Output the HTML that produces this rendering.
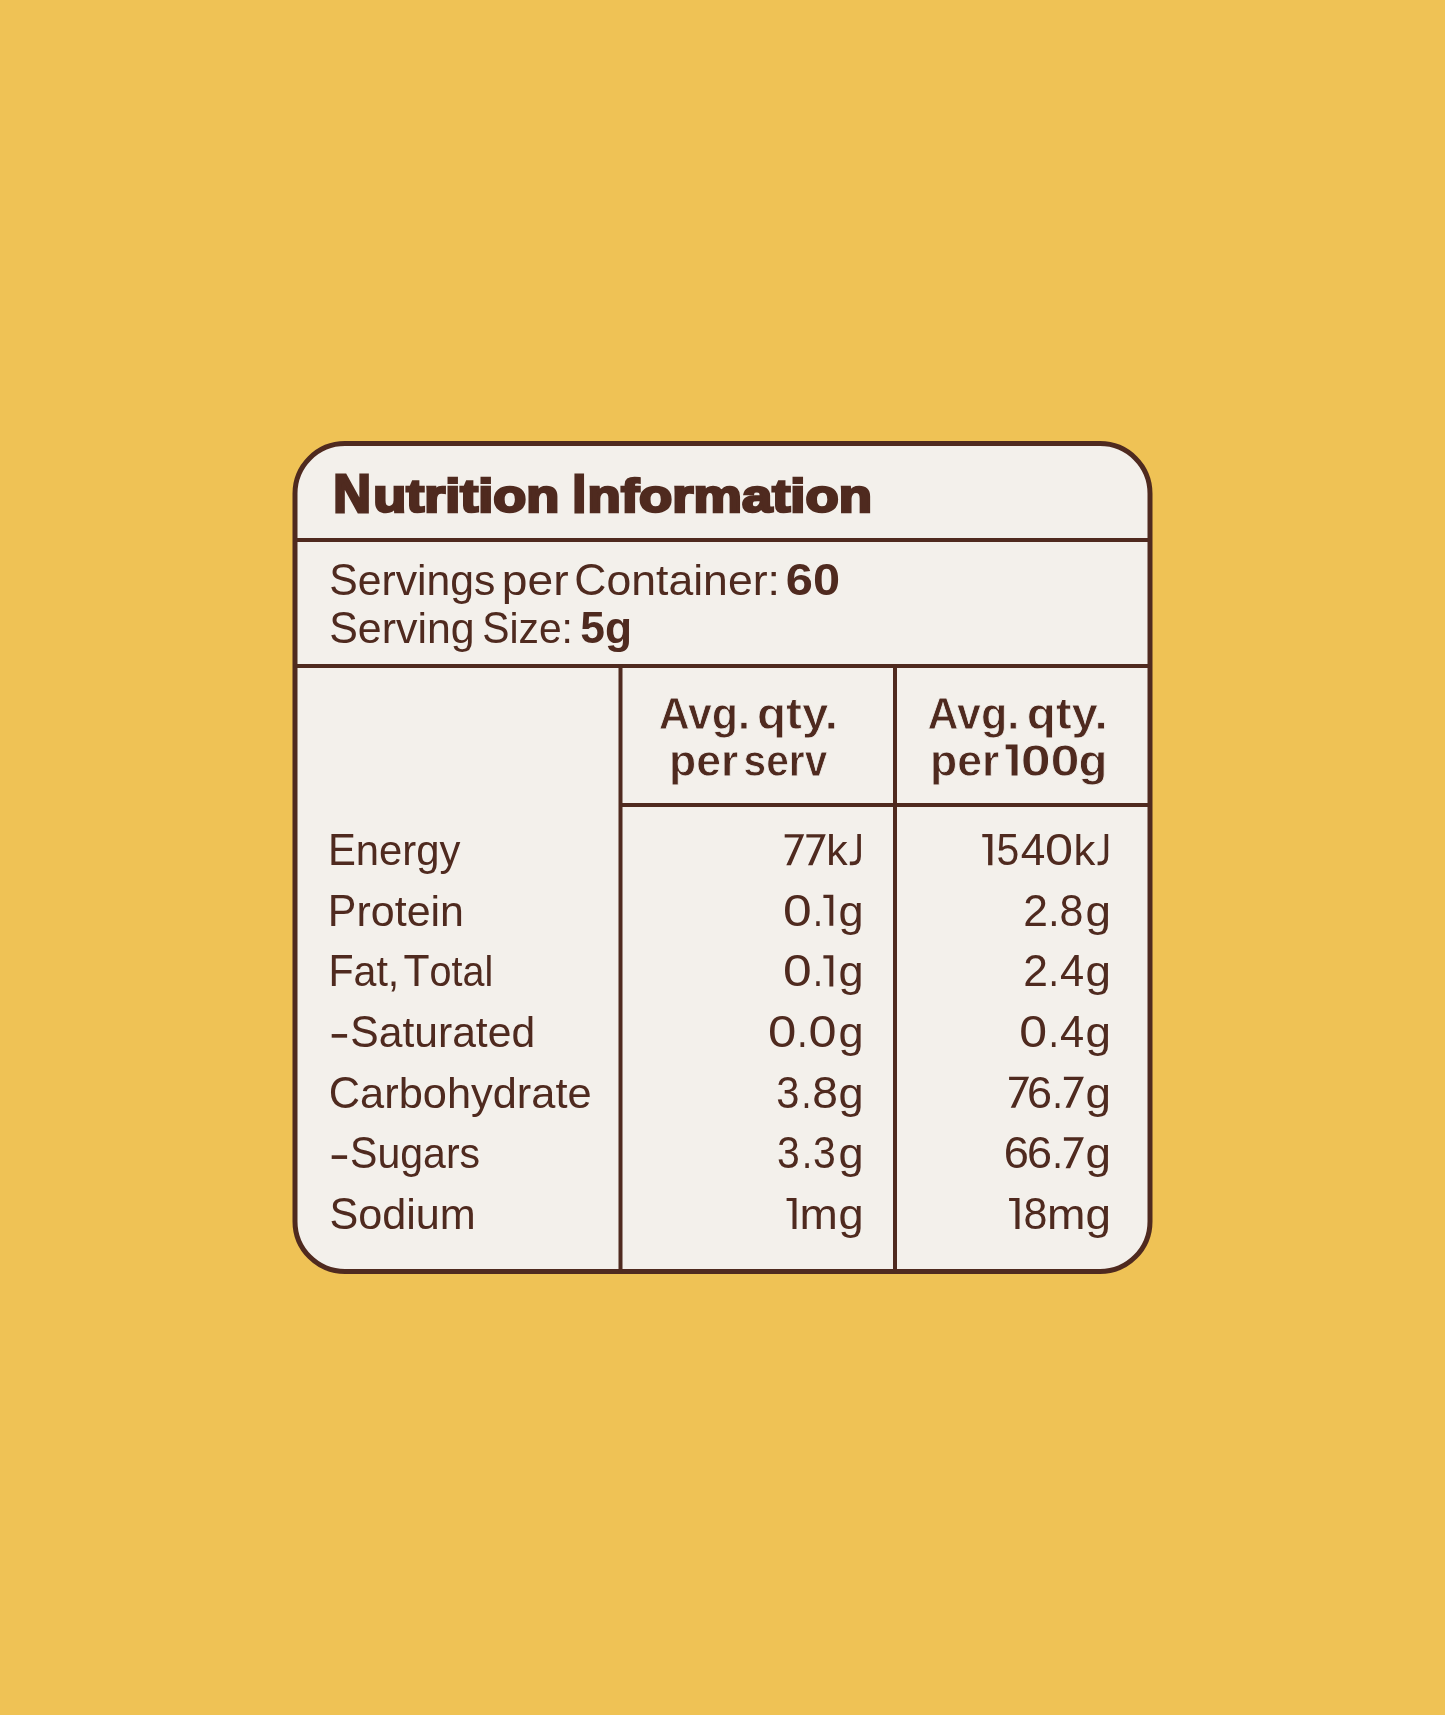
<!DOCTYPE html>
<html><head><meta charset="utf-8"><style>
html,body{margin:0;padding:0;background:#EFC255;width:1445px;height:1715px;overflow:hidden}
svg{display:block;will-change:transform}
text{font-family:"Liberation Sans",sans-serif;fill:#4F2A1F}
</style></head><body>
<svg width="1445" height="1715" viewBox="0 0 1445 1715">
<rect x="0" y="0" width="1445" height="1715" fill="#EFC255"/>
<rect x="295" y="443.5" width="855" height="828" rx="50" ry="50" fill="#F3F0EB" stroke="#4F2A1F" stroke-width="5"/>
<g fill="#4F2A1F">
<rect x="295" y="538" width="855" height="4"/>
<rect x="295" y="664" width="855" height="4"/>
<rect x="620.5" y="803" width="529.5" height="4"/>
<rect x="618.5" y="664" width="4" height="607.5"/>
<rect x="893" y="664" width="4" height="607.5"/>
<rect x="331.7" y="1034.04" width="15.4" height="3.65"/>
<rect x="331.7" y="1155.30" width="15.4" height="3.65"/>
</g>
<text transform="translate(333.34 512.20) scale(0.9668 1)" font-size="54" font-weight="700" stroke="#4F2A1F" stroke-width="2.9" stroke-linejoin="miter" stroke-miterlimit="2">N</text>
<text transform="translate(373.28 512.20) scale(1.1618 1)" font-size="46.5" font-weight="700" stroke="#4F2A1F" stroke-width="2.6" stroke-linejoin="miter" stroke-miterlimit="2">utrition</text>
<text transform="translate(572.57 512.20) scale(0.8997 1)" font-size="54" font-weight="700" stroke="#4F2A1F" stroke-width="2.9" stroke-linejoin="miter" stroke-miterlimit="2">I</text>
<text transform="translate(587.62 512.20) scale(1.1713 1)" font-size="46.5" font-weight="700" stroke="#4F2A1F" stroke-width="2.6" stroke-linejoin="miter" stroke-miterlimit="2">nformation</text>
<text transform="translate(329.27 594.90) scale(0.9506 1)" font-size="44.9">S</text>
<text transform="translate(357.74 594.90) scale(0.9881 1)" font-size="43.2">ervings</text>
<text transform="translate(501.81 594.90) scale(1.0701 1)" font-size="43.2">per</text>
<text transform="translate(574.31 594.90) scale(0.9925 1)" font-size="44.9">C</text>
<text transform="translate(606.49 594.90) scale(1.0316 1)" font-size="43.2">ontainer:</text>
<text transform="translate(785.78 594.90) scale(1.0950 1)" font-size="44.5" font-weight="700">60</text>
<text transform="translate(329.26 643.10) scale(0.9554 1)" font-size="44.9">S</text>
<text transform="translate(357.87 643.10) scale(0.9930 1)" font-size="43.2">erving</text>
<text transform="translate(482.23 643.10) scale(0.9082 1)" font-size="44.9">S</text>
<text transform="translate(509.43 643.10) scale(0.9440 1)" font-size="43.2">ize:</text>
<text transform="translate(580.31 643.10) scale(0.9961 1)" font-size="44.5" font-weight="700">5g</text>
<text transform="translate(658.64 729.40) scale(0.9641 1)" font-size="44.5" font-weight="700" stroke="#F3F0EB" stroke-width="0.8">Avg.</text>
<text transform="translate(756.99 729.40) scale(1.0691 1)" font-size="44.5" font-weight="700" stroke="#F3F0EB" stroke-width="0.8">qty.</text>
<text transform="translate(668.92 775.50) scale(1.0010 1)" font-size="44.5" font-weight="700" stroke="#F3F0EB" stroke-width="0.8">per</text>
<text transform="translate(743.56 775.50) scale(0.9146 1)" font-size="44.5" font-weight="700" stroke="#F3F0EB" stroke-width="0.8">serv</text>
<text transform="translate(927.54 729.40) scale(0.9663 1)" font-size="44.5" font-weight="700" stroke="#F3F0EB" stroke-width="0.8">Avg.</text>
<text transform="translate(1026.79 729.40) scale(1.0677 1)" font-size="44.5" font-weight="700" stroke="#F3F0EB" stroke-width="0.8">qty.</text>
<text transform="translate(929.92 775.50) scale(1.0010 1)" font-size="44.5" font-weight="700" stroke="#F3F0EB" stroke-width="0.8">per</text>
<text transform="translate(1020.63 775.50) scale(1.2142 1)" font-size="44.5" font-weight="700" stroke="#F3F0EB" stroke-width="0.8">0</text>
<text transform="translate(1050.39 775.50) scale(1.1756 1)" font-size="44.5" font-weight="700" stroke="#F3F0EB" stroke-width="0.8">0</text>
<text transform="translate(1078.39 775.50) scale(1.0657 1)" font-size="44.5" font-weight="700" stroke="#F3F0EB" stroke-width="0.8">g</text>
<text transform="translate(327.93 865.20) scale(0.9319 1)" font-size="44.9">E</text>
<text transform="translate(355.84 865.20) scale(0.9685 1)" font-size="43.2">nergy</text>
<text transform="translate(826.22 865.20) scale(0.9911 1)" font-size="43.2">k</text>
<text transform="translate(996.52 865.20) scale(0.9186 1)" font-size="44.5">5</text>
<text transform="translate(1020.81 865.20) scale(0.9937 1)" font-size="44.5">4</text>
<text transform="translate(1045.12 865.20) scale(1.1326 1)" font-size="44.5">0</text>
<text transform="translate(1073.57 865.20) scale(1.0115 1)" font-size="43.2">k</text>
<text transform="translate(327.84 925.83) scale(0.9572 1)" font-size="44.9">P</text>
<text transform="translate(356.51 925.83) scale(0.9948 1)" font-size="43.2">rotein</text>
<text transform="translate(782.99 925.83) scale(1.1596 1)" font-size="44.5">0</text>
<text transform="translate(813.11 925.83) scale(0.8013 1)" font-size="44.5">.</text>
<text transform="translate(838.59 925.83) scale(1.0469 1)" font-size="43.2">g</text>
<text transform="translate(1023.32 925.83) scale(0.9972 1)" font-size="44.5">2</text>
<text transform="translate(1048.36 925.83) scale(0.9040 1)" font-size="44.5">.</text>
<text transform="translate(1059.46 925.83) scale(0.9650 1)" font-size="44.5">8</text>
<text transform="translate(1085.57 925.83) scale(1.0617 1)" font-size="43.2">g</text>
<text transform="translate(328.39 986.46) scale(0.9165 1)" font-size="44.9">F</text>
<text transform="translate(353.52 986.46) scale(0.9526 1)" font-size="43.2">at,</text>
<text transform="translate(403.43 986.46) scale(0.9487 1)" font-size="44.9">T</text>
<text transform="translate(429.55 986.46) scale(0.9139 1)" font-size="43.2">otal</text>
<text transform="translate(782.99 986.46) scale(1.1596 1)" font-size="44.5">0</text>
<text transform="translate(813.11 986.46) scale(0.8013 1)" font-size="44.5">.</text>
<text transform="translate(838.59 986.46) scale(1.0469 1)" font-size="43.2">g</text>
<text transform="translate(1023.22 986.46) scale(0.9972 1)" font-size="44.5">2</text>
<text transform="translate(1048.57 986.46) scale(0.8424 1)" font-size="44.5">.</text>
<text transform="translate(1059.92 986.46) scale(0.9762 1)" font-size="44.5">4</text>
<text transform="translate(1085.57 986.46) scale(1.0617 1)" font-size="43.2">g</text>
<text transform="translate(350.27 1047.09) scale(0.9498 1)" font-size="44.9">S</text>
<text transform="translate(378.71 1047.09) scale(0.9872 1)" font-size="43.2">aturated</text>
<text transform="translate(767.91 1047.09) scale(1.1461 1)" font-size="44.5">0</text>
<text transform="translate(797.00 1047.09) scale(0.8629 1)" font-size="44.5">.</text>
<text transform="translate(808.62 1047.09) scale(1.1326 1)" font-size="44.5">0</text>
<text transform="translate(838.59 1047.09) scale(1.0469 1)" font-size="43.2">g</text>
<text transform="translate(1019.14 1047.09) scale(1.1236 1)" font-size="44.5">0</text>
<text transform="translate(1048.57 1047.09) scale(0.8424 1)" font-size="44.5">.</text>
<text transform="translate(1059.92 1047.09) scale(0.9762 1)" font-size="44.5">4</text>
<text transform="translate(1085.57 1047.09) scale(1.0617 1)" font-size="43.2">g</text>
<text transform="translate(328.77 1107.72) scale(0.9663 1)" font-size="44.9">C</text>
<text transform="translate(360.10 1107.72) scale(1.0044 1)" font-size="43.2">arbohydrate</text>
<text transform="translate(776.20 1107.72) scale(0.9372 1)" font-size="44.5">3</text>
<text transform="translate(801.41 1107.72) scale(0.8013 1)" font-size="44.5">.</text>
<text transform="translate(812.25 1107.72) scale(1.0392 1)" font-size="44.5">8</text>
<text transform="translate(838.59 1107.72) scale(1.0469 1)" font-size="43.2">g</text>
<text transform="translate(1026.99 1107.72) scale(1.0115 1)" font-size="44.5">6</text>
<text transform="translate(1052.20 1107.72) scale(0.8629 1)" font-size="44.5">.</text>
<text transform="translate(1085.57 1107.72) scale(1.0617 1)" font-size="43.2">g</text>
<text transform="translate(350.12 1168.35) scale(0.9135 1)" font-size="44.9">S</text>
<text transform="translate(377.48 1168.35) scale(0.9495 1)" font-size="43.2">ugars</text>
<text transform="translate(777.02 1168.35) scale(0.9186 1)" font-size="44.5">3</text>
<text transform="translate(802.04 1168.35) scale(0.8218 1)" font-size="44.5">.</text>
<text transform="translate(813.12 1168.35) scale(0.9186 1)" font-size="44.5">3</text>
<text transform="translate(838.59 1168.35) scale(1.0469 1)" font-size="43.2">g</text>
<text transform="translate(1003.68 1168.35) scale(1.0163 1)" font-size="44.5">6</text>
<text transform="translate(1026.99 1168.35) scale(1.0115 1)" font-size="44.5">6</text>
<text transform="translate(1052.20 1168.35) scale(0.8629 1)" font-size="44.5">.</text>
<text transform="translate(1085.57 1168.35) scale(1.0617 1)" font-size="43.2">g</text>
<text transform="translate(329.45 1228.98) scale(0.9615 1)" font-size="44.9">S</text>
<text transform="translate(358.25 1228.98) scale(0.9994 1)" font-size="43.2">odium</text>
<text transform="translate(799.42 1228.98) scale(1.0660 1)" font-size="43.2">m</text>
<text transform="translate(838.59 1228.98) scale(1.0469 1)" font-size="43.2">g</text>
<text transform="translate(1023.56 1228.98) scale(0.9650 1)" font-size="44.5">8</text>
<text transform="translate(1046.91 1228.98) scale(1.0692 1)" font-size="43.2">m</text>
<text transform="translate(1085.57 1228.98) scale(1.0617 1)" font-size="43.2">g</text>
<g fill="#4F2A1F"><path d="M1005.70 744.50H1017.50V775.60H1011.60V749.30H1005.70Z"/><path d="M982.30 834.10H992.40V865.20H988.10V837.30H982.30Z"/><path d="M823.40 894.73H833.30V925.83H829.40V897.93H823.40Z"/><path d="M823.40 955.36H833.30V986.46H829.40V958.56H823.40Z"/><path d="M786.60 1197.88H796.50V1228.98H792.50V1201.08H786.60Z"/><path d="M1009.10 1197.88H1019.50V1228.98H1015.40V1201.08H1009.10Z"/><path d="M784.70 834.20H804.20L790.90 865.20H786.30L799.00 837.60H784.70Z"/><path d="M806.40 834.20H825.80L812.59 865.20H807.99L820.60 837.60H806.40Z"/><path d="M1009.10 1076.72H1029.10L1015.34 1107.72H1010.74L1023.90 1080.12H1009.10Z"/><path d="M1063.90 1076.72H1083.90L1070.14 1107.72H1065.54L1078.70 1080.12H1063.90Z"/><path d="M1063.90 1137.35H1083.90L1070.14 1168.35H1065.54L1078.70 1140.75H1063.90Z"/></g><g fill="none" stroke="#4F2A1F" stroke-width="3.6"><path d="M859.10 834.00V856.20Q859.10 863.40 852.40 863.40H849.80"/><path d="M1106.40 834.00V856.20Q1106.40 863.40 1099.70 863.40H1097.60"/></g>
</svg>
</body></html>
